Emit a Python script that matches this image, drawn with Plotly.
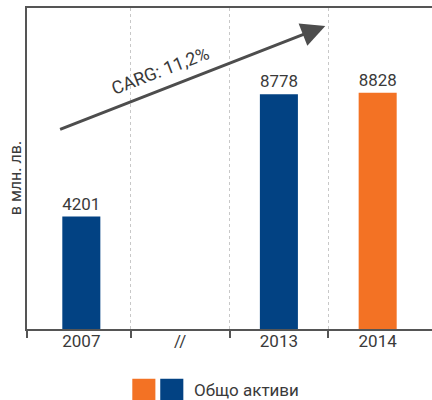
import plotly.graph_objects as go

# data
categories = ["2007", "//", "2013", "2014"]
bar_pos = [0, 2, 3]
bar_values = [4201, 8778, 8828]
bar_colors = ["#024283", "#024283", "#F37224"]
cagr_label = "CARG: 11,2%"
legend_label = "Общо активи"
y_title = "в млн. лв."

TEXT = "#3a3a3a"
LINE = "#555555"
FONT = "Roboto, Liberation Sans, sans-serif"

fig = go.Figure()
fig.add_trace(go.Bar(
    x=bar_pos, y=bar_values, width=0.385,
    marker=dict(color=bar_colors, line=dict(width=0)),
    text=[str(v) for v in bar_values], textposition="outside",
    textfont=dict(size=17, color=TEXT), cliponaxis=False,
    showlegend=False, hoverinfo="skip"))

# CAGR arrow + rotated label
fig.add_annotation(
    x=2.47, y=11330, ax=-0.23, ay=7440, xref="x", yref="y", axref="x", ayref="y",
    showarrow=True, arrowhead=2, arrowsize=1.6, arrowwidth=3, arrowcolor="#4d4d4d",
    text="")
fig.add_annotation(
    x=0.8, y=9650, xref="x", yref="y", text=cagr_label, showarrow=False,
    textangle=-21, font=dict(size=18, color=TEXT))

# y-axis title
fig.add_annotation(
    x=0, y=0.47, xref="paper", yref="paper", xanchor="center", yanchor="middle",
    xshift=-12, text=y_title,
    showarrow=False, textangle=-90, font=dict(size=16, color=TEXT))

# legend: two swatches + label
fig.add_shape(type="rect", xref="paper", yref="paper",
              x0=0.26, x1=0.317, y0=-0.155, y1=-0.225,
              fillcolor="#F37224", line=dict(width=0))
fig.add_shape(type="rect", xref="paper", yref="paper",
              x0=0.329, x1=0.386, y0=-0.155, y1=-0.225,
              fillcolor="#024283", line=dict(width=0))
fig.add_annotation(
    x=0.408, y=-0.19, xref="paper", yref="paper", xanchor="left", yanchor="middle",
    text=legend_label, showarrow=False, font=dict(size=17, color=TEXT))

fig.update_xaxes(
    range=[-0.55, 3.55], tickmode="array", tickvals=[0, 1, 2, 3],
    ticktext=categories, ticks="", tickfont=dict(size=17, color=TEXT),
    ticklabelstandoff=-4,
    showgrid=False, zeroline=False,
    showline=True, linecolor=LINE, linewidth=1.5, mirror=True,
    minor=dict(tickmode="array", tickvals=[-0.55, 0.5, 1.5, 2.5], ticks="outside",
               ticklen=7, tickwidth=1.5, tickcolor=LINE,
               showgrid=True, gridcolor="#c8c8c8", griddash="dot", gridwidth=1))
fig.update_yaxes(
    range=[0, 12000], showticklabels=False, ticks="", showgrid=False,
    zeroline=False, showline=True, linecolor=LINE, linewidth=1.5)

fig.update_layout(
    width=432, height=400,
    margin=dict(l=27, r=0, t=8, b=71),
    plot_bgcolor="white", paper_bgcolor="white",
    font=dict(family=FONT, color=TEXT),
    showlegend=False)

fig.write_html("out.html", config={"displayModeBar": False},
               post_script="document.body.style.margin='0';")
